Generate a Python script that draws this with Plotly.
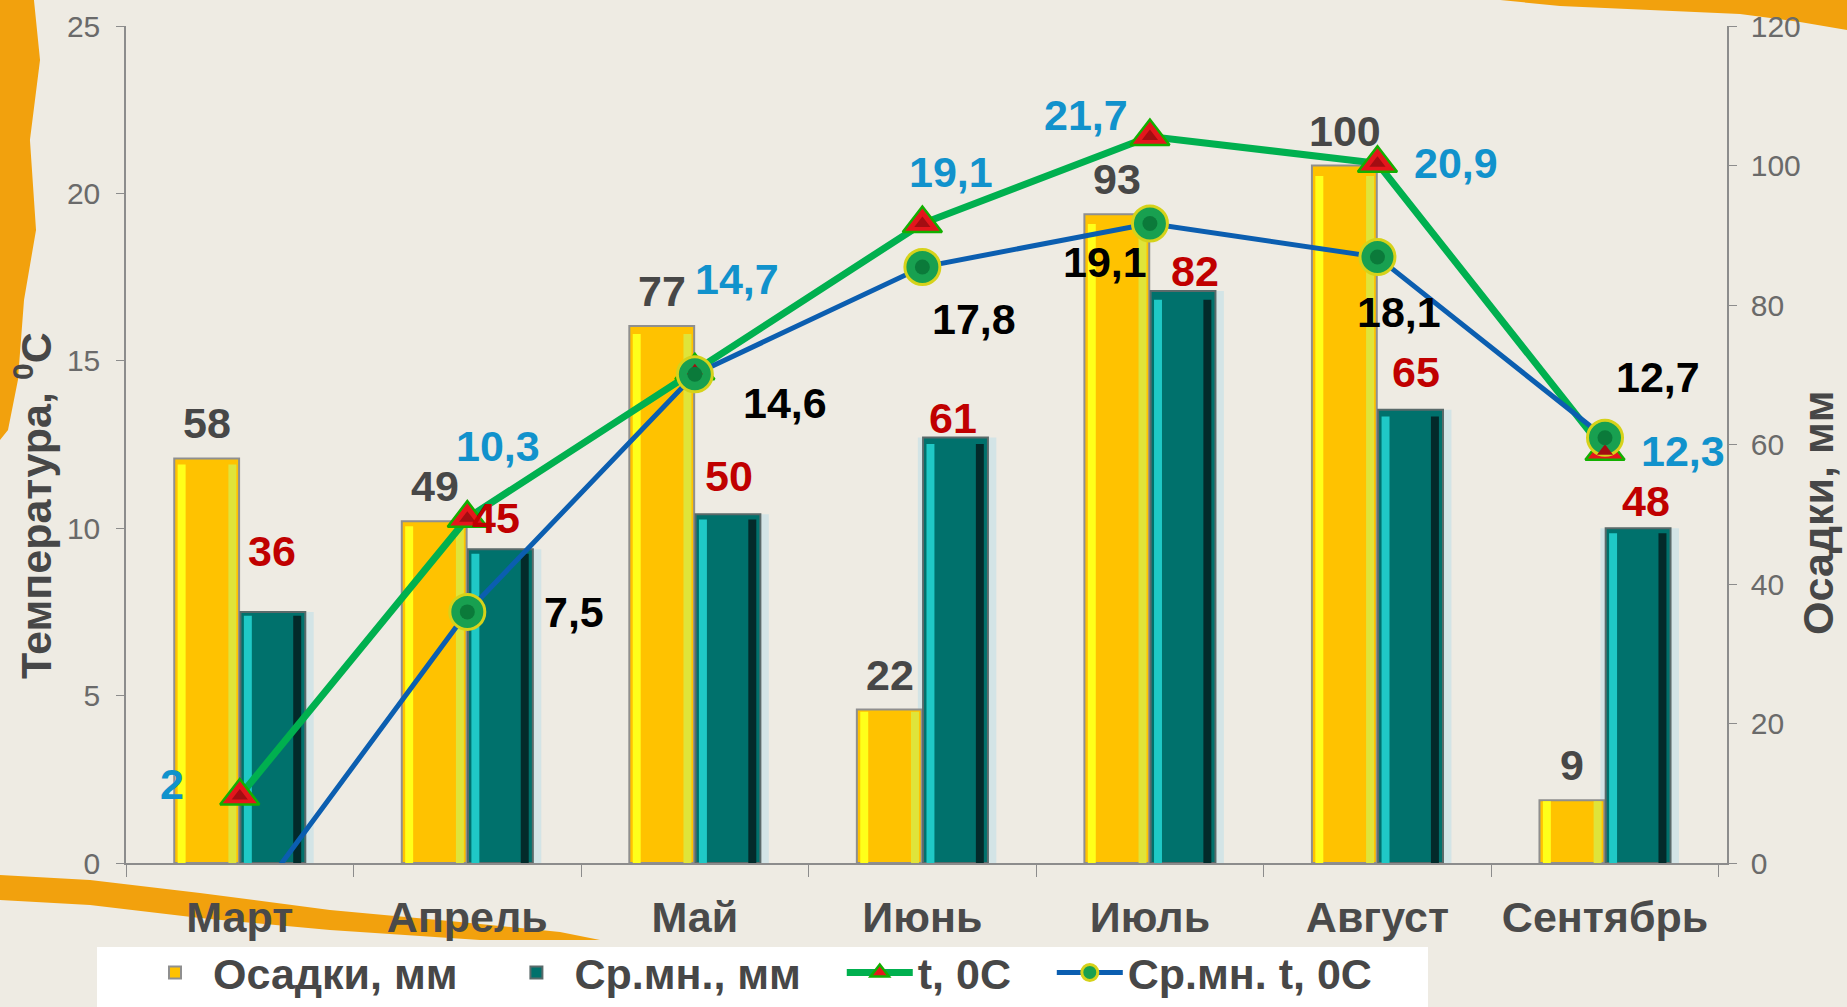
import plotly.graph_objects as go

months = ["Март", "Апрель", "Май", "Июнь", "Июль", "Август", "Сентябрь"]
precip = [58, 49, 77, 22, 93, 100, 9]
precip_avg = [36, 45, 50, 61, 82, 65, 48]
temp = [2, 10.3, 14.7, 19.1, 21.7, 20.9, 12.3]
temp_avg = [-1.7, 7.5, 14.6, 17.8, 19.1, 18.1, 12.7]
temp_avg_labels = [None, "7,5", "14,6", "17,8", "19,1", "18,1", "12,7"]

# figure geometry (px)
W, H = 1847, 1007
ML, MR, MT, MB = 126, 120, 26, 144
PW, PH = W - ML - MR, H - MT - MB
BAR_W = 0.285
BAR_SHIFT = BAR_W / 2 * PW / len(months)

FONT = "Liberation Sans, Arial, sans-serif"
BIG = 43


def px_x(x):
    return (x - ML) / PW


def px_y(y):
    return (H - MB - y) / PH


def fmt(v):
    return f"{v:g}".replace(".", ",")


NB = "\u00a0" * 3

fig = go.Figure()
# faint halo behind the teal bars
fig.add_bar(x=months, y=precip_avg, offset=-0.02, width=BAR_W + 0.06,
            marker=dict(color="rgba(160,215,235,0.35)", line=dict(width=0)),
            showlegend=False, hoverinfo="skip")
fig.add_bar(
    x=months, y=precip, name="Осадки, мм" + NB, offset=-BAR_W - 0.003, width=BAR_W,
    marker=dict(color="#ffc200", line=dict(color="#8f8f8f", width=2)),
)
fig.add_bar(
    x=months, y=precip_avg, name="Ср.мн., мм" + NB, offset=0.003, width=BAR_W,
    marker=dict(color="#00716c", line=dict(color="#5a6a6a", width=2)),
)
# bevel strips
for y, off, col in [
    (precip, -BAR_W + 0.012, "#ffff1a"),
    (precip, -0.05, "#dfe43a"),
    (precip_avg, 0.018, "#1fc9c6"),
    (precip_avg, BAR_W - 0.05, "#032a2a"),
]:
    fig.add_bar(x=months, y=[v * 0.985 for v in y], offset=off, width=0.035,
                marker=dict(color=col, line=dict(width=0)),
                showlegend=False, hoverinfo="skip")

fig.add_scatter(
    x=months, y=temp, name="t, 0C" + NB, yaxis="y2", mode="lines+markers",
    line=dict(color="#00b04f", width=7),
    marker=dict(symbol="triangle-up", size=34, color="#e5161c",
                line=dict(color="#12b000", width=2.5)),
)
fig.add_scatter(
    x=months, y=temp_avg, name="Ср.мн. t, 0C", yaxis="y2", mode="lines+markers",
    line=dict(color="#0b5eb0", width=5),
    marker=dict(symbol="circle", size=35, color="#18a050",
                line=dict(color="#d6d21a", width=3)),
)
# darker marker centres
fig.add_scatter(x=months, y=temp, yaxis="y2", mode="markers", showlegend=False,
                hoverinfo="skip",
                marker=dict(symbol="triangle-up", size=14, color="#a30d12"))
fig.add_scatter(x=months, y=temp_avg, yaxis="y2", mode="markers", showlegend=False,
                hoverinfo="skip",
                marker=dict(symbol="circle", size=15, color="#0b7a3a"))

annotations = []
# labels above the bars
precip_dy = [35, 35, 35, 35, 35, 35, 35]
avg_dy = [61, 31, 38, 20, 20, 38, 27]
avg_dx = [0, -4, 2, -2, 12, 6, 8]
for i, m in enumerate(months):
    annotations.append(dict(
        x=m, y=precip[i], yref="y", text=f"<b>{precip[i]}</b>",
        xshift=-BAR_SHIFT, yshift=precip_dy[i], showarrow=False,
        font=dict(family=FONT, size=BIG, color="#474747"),
    ))
    annotations.append(dict(
        x=m, y=precip_avg[i], yref="y", text=f"<b>{precip_avg[i]}</b>",
        xshift=BAR_SHIFT + avg_dx[i], yshift=avg_dy[i], showarrow=False,
        font=dict(family=FONT, size=BIG, color="#c00000"),
    ))

# labels at the line points
t_shift = [(-68, 12), (31, 72), (42, 92), (29, 52), (-64, 21), (79, 0), (78, 0)]
ta_shift = [(0, 0), (107, 0), (90, -29), (52, -52), (-45, -38), (22, -55), (53, 61)]
for i, m in enumerate(months):
    annotations.append(dict(
        x=m, y=temp[i], yref="y2", text=f"<b>{fmt(temp[i])}</b>",
        xshift=t_shift[i][0], yshift=t_shift[i][1], showarrow=False,
        font=dict(family=FONT, size=BIG, color="#1192cc"),
    ))
    if temp_avg_labels[i]:
        annotations.append(dict(
            x=m, y=temp_avg[i], yref="y2", text=f"<b>{temp_avg_labels[i]}</b>",
            xshift=ta_shift[i][0], yshift=ta_shift[i][1], showarrow=False,
            font=dict(family=FONT, size=BIG, color="#000000"),
        ))

# axis titles
annotations.append(dict(
    x=px_x(33), y=px_y(506), xref="paper", yref="paper", textangle=-90,
    xanchor="center", yanchor="middle",
    text="<b>Температура, <sup>0</sup>С</b>", showarrow=False,
    font=dict(family=FONT, size=BIG, color="#474747"),
))
annotations.append(dict(
    x=px_x(1818), y=px_y(513), xref="paper", yref="paper", textangle=-90,
    xanchor="center", yanchor="middle",
    text="<b>Осадки, мм</b>", showarrow=False,
    font=dict(family=FONT, size=BIG, color="#474747"),
))

# orange paper edges
ORANGE = "#f2a10d"
deco = [
    [(0, 0), (34, 0), (40, 60), (30, 140), (36, 230), (24, 300), (18, 380), (8, 430), (0, 440)],
    [(0, 875), (90, 880), (200, 893), (330, 910), (460, 922), (560, 932), (600, 940),
     (480, 940), (330, 930), (200, 918), (90, 905), (0, 900)],
    [(1500, 0), (1847, 0), (1847, 30), (1800, 22), (1740, 14), (1650, 10), (1560, 6)],
]
shapes = []
for pts in deco:
    path = "M " + " L ".join(f"{px_x(x):.4f},{px_y(y):.4f}" for x, y in pts) + " Z"
    shapes.append(dict(type="path", path=path, xref="paper", yref="paper",
                       fillcolor=ORANGE, line=dict(width=0), layer="below"))
# white legend panel
shapes.append(dict(type="rect", xref="paper", yref="paper",
                   x0=px_x(97), x1=px_x(1428), y0=px_y(947), y1=px_y(H + 5),
                   fillcolor="#ffffff", line=dict(width=0), layer="below"))

axis_line = "#8c8c8c"
fig.update_layout(
    width=W, height=H,
    margin=dict(l=ML, r=MR, t=MT, b=MB, autoexpand=False),
    paper_bgcolor="#eeebe3",
    plot_bgcolor="rgba(0,0,0,0)",
    font=dict(family=FONT, color="#474747"),
    barmode="overlay",
    showlegend=True,
    legend=dict(
        orientation="h", xref="container", yref="container",
        x=(97 + 40) / W, y=-0.008, xanchor="left", yanchor="bottom",
        bgcolor="rgba(0,0,0,0)",
        font=dict(family=FONT, size=BIG, color="#474747", weight="bold"),
        itemwidth=66, traceorder="normal",
    ),
    xaxis=dict(
        showline=True, linecolor=axis_line, linewidth=2,
        ticks="outside", tickson="boundaries", ticklen=12, tickcolor=axis_line,
        tickfont=dict(family=FONT, size=BIG, color="#4a4a4a", weight="bold"),
        ticklabelstandoff=15,
        showgrid=False, automargin=False,
    ),
    yaxis=dict(
        side="right", range=[0, 120], dtick=20, showgrid=False,
        showline=True, linecolor=axis_line, linewidth=1.5,
        ticks="outside", ticklen=8, tickcolor=axis_line,
        tickfont=dict(family=FONT, size=30, color="#6a6a6a"),
        ticklabelstandoff=8,
        automargin=False, zeroline=False,
    ),
    yaxis2=dict(
        side="left", overlaying="y", range=[0, 25], dtick=5, showgrid=False,
        showline=True, linecolor=axis_line, linewidth=1.5,
        ticks="outside", ticklen=8, tickcolor=axis_line,
        tickfont=dict(family=FONT, size=30, color="#6a6a6a"),
        ticklabelstandoff=10,
        automargin=False, zeroline=False,
    ),
    annotations=annotations,
    shapes=shapes,
)

fig.write_html("out.html", config={"displayModeBar": False},
               post_script="document.body.style.margin='0';")
